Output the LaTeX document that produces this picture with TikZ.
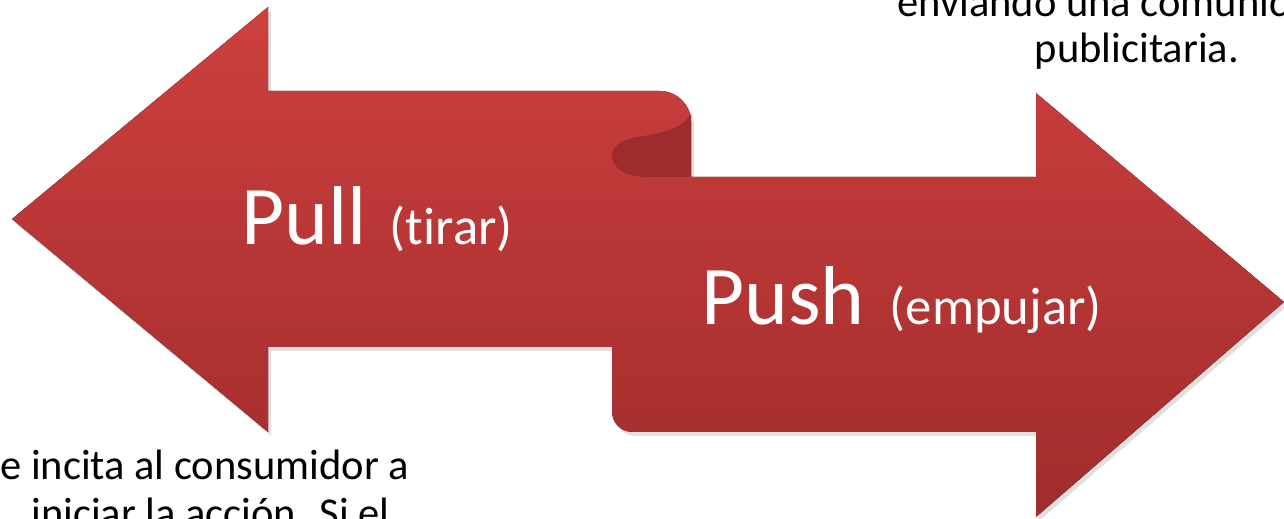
\documentclass[tikz,border=0pt]{standalone}
\usepackage{fontspec}
\setmainfont{Carlito}[Ligatures=NoCommon]
\definecolor{redtop}{RGB}{205,64,63}
\definecolor{redbot}{RGB}{160,44,44}
\definecolor{redback}{RGB}{158,44,44}
\tikzset{
  bigword/.style={text=white, inner sep=0pt, anchor=base west, font=\fontsize{47.5}{50}\selectfont},
  note/.style={text=black, inner sep=0pt, anchor=base west, font=\fontsize{24.2}{27}\selectfont},
}
\newcommand{\smallpar}[1]{{\fontsize{30}{32}\selectfont #1}}
\begin{document}
\begin{tikzpicture}[x=0.02cm,y=-0.02cm]
\useasboundingbox (0,0) rectangle (1284,519);
\clip (0,0) rectangle (1284,519);
% soft shadow
\fill[black,opacity=0.12,shift={(3,4)}]
  (12,219) -- (268,7) -- (268,91) -- (660,91)
  .. controls (677,91) and (691,105) .. (691,122)
  -- (691,177) -- (1036,177) -- (1036,93) -- (1284,302) -- (1036,517) -- (1036,432)
  -- (633,432) .. controls (621,432) and (612,423) .. (612,411)
  -- (612,347) -- (268,347) -- (268,432) -- cycle;
% ribbon body
\fill[top color=redtop,bottom color=redbot]
  (12,219) -- (268,7) -- (268,91) -- (660,91)
  .. controls (677,91) and (691,105) .. (691,122)
  -- (691,177) -- (1036,177) -- (1036,93) -- (1284,302) -- (1036,517) -- (1036,432)
  -- (633,432) .. controls (621,432) and (612,423) .. (612,411)
  -- (612,347) -- (268,347) -- (268,432) -- cycle;
% back side of the curl
\fill[redback]
  (691,114) .. controls (682,128) and (665,133) .. (637,137)
  .. controls (620,140) and (611,148) .. (612,156)
  .. controls (613,168) and (625,177) .. (647,177)
  -- (691,177) -- cycle;
% labels
\node[bigword] (pull) at (241,245) {Pull\hspace{0.28em}\smallpar{(tirar)}};
\node[bigword] (push) at (701,325) {Push\hspace{0.3em}\smallpar{(empujar)}};
% outside notes
\node[note] (top1) at (897,17) {enviando una comunic};
\node[note, anchor=base] (top2) at (1137,63) {publicitaria.};
\node[note] (bot1) at (0,480) {e incita al consumidor a};
\node[note] (bot2) at (31,528) {iniciar la acción. Si el};
\end{tikzpicture}
\end{document}
